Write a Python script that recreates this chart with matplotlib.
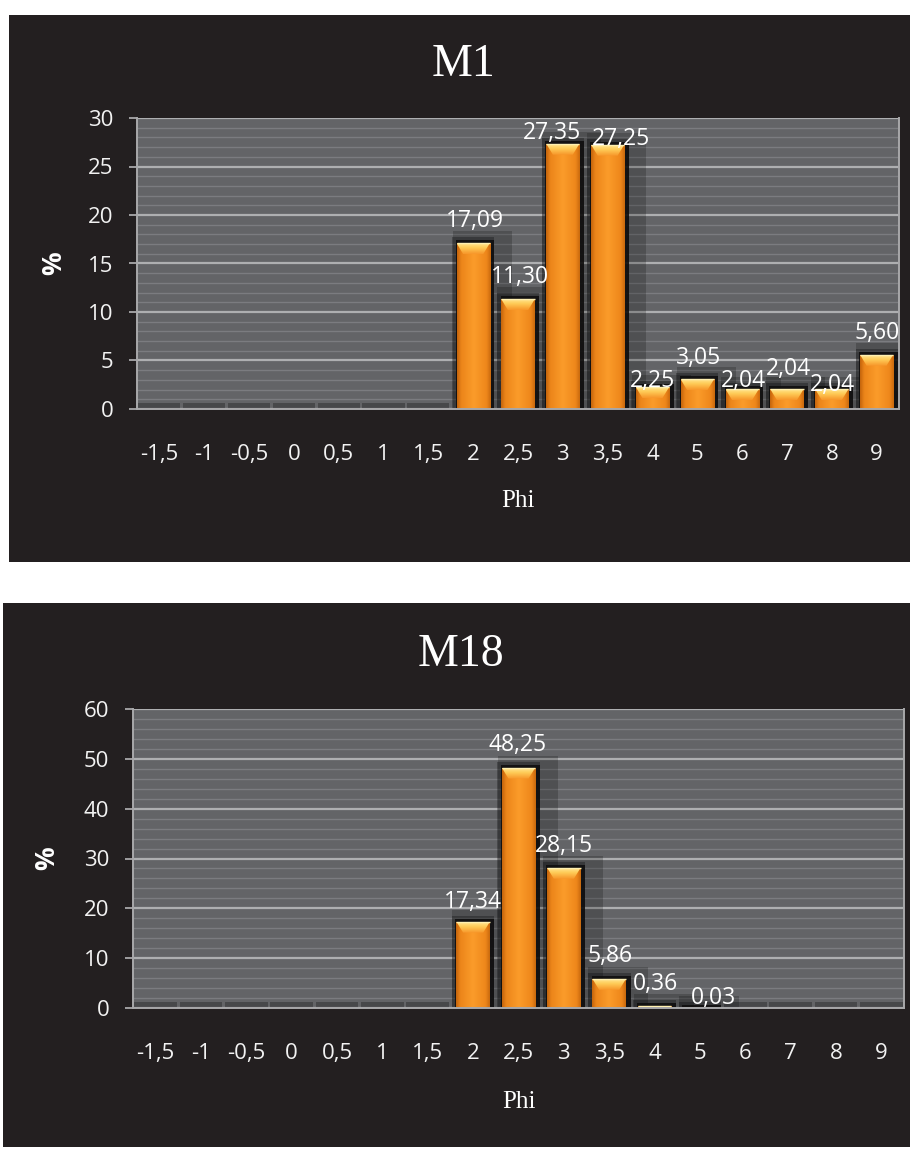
import matplotlib
matplotlib.use("Agg")
import matplotlib.pyplot as plt
import numpy as np
from matplotlib.patches import Rectangle, Polygon
from matplotlib.colors import LinearSegmentedColormap
from matplotlib.ticker import MultipleLocator

# ---- data ----
phi_labels = ["-1,5", "-1", "-0,5", "0", "0,5", "1", "1,5", "2", "2,5",
              "3", "3,5", "4", "5", "6", "7", "8", "9"]
m1_values = [0, 0, 0, 0, 0, 0, 0, 17.09, 11.30, 27.35, 27.25,
             2.25, 3.05, 2.04, 2.04, 2.04, 5.60]
m18_values = [0, 0, 0, 0, 0, 0, 0, 17.34, 48.25, 28.15, 5.86,
              0.36, 0.03, 0, 0, 0, 0]

# label nudges (pixels) so neighbouring value labels don't collide
m1_label_nudge = {7: (2, 16), 8: (2, 16), 9: (-11, 5), 10: (13, 0),
                  11: (0, 0), 12: (1, 15), 13: (1, 2.5), 14: (1, 14),
                  15: (1, -1.5), 16: (1, 16)}
m18_label_nudge = {7: (0, 14), 8: (-1, 17), 9: (0, 16), 10: (1, 17),
                   11: (1, 16), 12: (14, 4)}

W, H = 910, 1151
DPI = 100
PANEL_BG = "#231f20"
PLOT_BG = "#636467"
SANS = ["Open Sans", "DejaVu Sans"]
SERIF = ["Liberation Serif", "DejaVu Serif"]


def fx(px):
    return px / W


def fy(py):
    return 1 - py / H


bar_cmap = LinearSegmentedColormap.from_list(
    "barfill",
    [(0.0, "#c4650c"), (0.12, "#ec851a"), (0.5, "#fb9c2a"),
     (0.88, "#ee871b"), (1.0, "#c96a0e")])
bevel_cmap = LinearSegmentedColormap.from_list(
    "bevel", [(0.0, "#f7962a"), (0.6, "#ffcc58"), (1.0, "#ffe690")])

fig = plt.figure(figsize=(W / DPI, H / DPI), dpi=DPI)
fig.patch.set_facecolor("white")


def panel(box, axbox, values, nudges, ymax, ystep, title, title_base,
          pct_xy, phi_base):
    # dark card behind the chart
    x0, y0, x1, y1 = box
    fig.patches.append(Rectangle((fx(x0), fy(y1)), fx(x1) - fx(x0),
                                 fy(y0) - fy(y1), transform=fig.transFigure,
                                 facecolor=PANEL_BG, edgecolor="none",
                                 zorder=-5))
    l, t, r, b = axbox
    ax = fig.add_axes([fx(l), fy(b), fx(r) - fx(l), fy(t) - fy(b)])
    ax.set_zorder(1)
    ax.set_facecolor(PLOT_BG)
    n = len(values)
    xs = np.arange(n)
    ax.set_xlim(-0.5, n - 0.5)
    ax.set_ylim(0, ymax)

    px_per_unit = (b - t) / ymax

    def up(px):
        return px / px_per_unit

    ax.yaxis.set_major_locator(MultipleLocator(ystep))
    ax.yaxis.set_minor_locator(MultipleLocator(ystep / 5))
    ax.grid(which="minor", axis="y", color="#7b7c80", lw=1.0, zorder=0.5)
    ax.grid(which="major", axis="y", color="#aeafb1", lw=1.6, zorder=0.6)
    ax.set_axisbelow(True)

    # depth / shadow boxes behind each bar
    for xi, v in zip(xs, values):
        ax.add_patch(Rectangle((xi - 0.47, 0), 0.94, v + up(6),
                               facecolor="black", alpha=0.28,
                               edgecolor="none", zorder=1))
        if v > 0:
            ax.add_patch(Rectangle((xi - 0.46, 0), 1.32, v + up(12),
                                   facecolor="black", alpha=0.2,
                                   edgecolor="none", zorder=1.1))
            ax.add_patch(Rectangle((xi - 0.39, 0), 0.86, v + up(3),
                                   facecolor="#0d0c0c", alpha=0.85,
                                   edgecolor="none", zorder=1.2))

    bw = 0.74
    bars = ax.bar(xs, values, width=bw, color="#f7931e", zorder=2,
                  linewidth=0)
    grad = np.linspace(0, 1, 64).reshape(1, -1)
    vgrad = np.linspace(0, 1, 32).reshape(-1, 1)
    for bar, v in zip(bars, values):
        if v <= 0:
            continue
        bx, bwid, bh = bar.get_x(), bar.get_width(), bar.get_height()
        im = ax.imshow(grad, cmap=bar_cmap, aspect="auto",
                       extent=(bx, bx + bwid, 0, bh), zorder=2.1,
                       interpolation="bicubic")
        im.set_clip_path(bar)
        # light bevel at the top of each bar
        hh = min(up(11), bh)
        inset = bwid * 0.2
        bevel = Polygon([(bx, bh), (bx + bwid, bh),
                         (bx + bwid - inset, bh - hh), (bx + inset, bh - hh)],
                        closed=True, facecolor="none", edgecolor="none",
                        zorder=2.2)
        ax.add_patch(bevel)
        bim = ax.imshow(vgrad, cmap=bevel_cmap, aspect="auto",
                        origin="lower", extent=(bx, bx + bwid, bh - hh, bh),
                        zorder=2.2, interpolation="bicubic")
        bim.set_clip_path(bevel)
        ax.plot([bx, bx + bwid], [bh, bh], color="#fff0b0", lw=1.0,
                zorder=2.3, solid_capstyle="butt")
    ax.set_ylim(0, ymax)
    ax.set_xlim(-0.5, n - 0.5)

    # value labels
    for xi, v in zip(xs, values):
        if v <= 0:
            continue
        dx, dy = nudges.get(xi, (0, 16))
        ax.annotate(f"{v:.2f}".replace(".", ","), (xi, v),
                    xytext=(dx, dy), textcoords="offset pixels",
                    ha="center", va="baseline", color="white",
                    fontsize=16.5, family=SANS, zorder=5)

    ax.set_xticks(xs)
    ax.set_xticklabels(phi_labels)
    ax.tick_params(axis="x", length=0, pad=25, labelsize=16,
                   labelcolor="#f2f2f2")
    ax.tick_params(axis="y", which="major", length=6, width=1.3,
                   color="#a8a8aa", pad=11, labelsize=16,
                   labelcolor="#f2f2f2", direction="out")
    ax.tick_params(axis="y", which="minor", length=0)
    for lab in ax.get_xticklabels() + ax.get_yticklabels():
        lab.set_family(SANS)
    for s in ax.spines.values():
        s.set_color("#a8a8aa")
        s.set_linewidth(1.4)
    ax.spines["top"].set_visible(False)

    fig.text(fx(sum([x0, x1]) / 2 + 4), fy(title_base), title,
             ha="center", va="baseline", color="white", fontsize=33,
             family=SERIF)
    fig.text(fx(pct_xy[0]), fy(pct_xy[1]), "%", rotation=90, ha="center",
             va="center", color="white", fontsize=19, fontweight="bold",
             family=SANS)
    fig.text(fx((l + r) / 2), fy(phi_base), "Phi", ha="center",
             va="baseline", color="white", fontsize=18, family=SERIF)
    return ax


panel((9, 15, 910, 562), (137, 118, 899, 409), m1_values, m1_label_nudge,
      30, 5, "M1", 76, (54, 263), 507)
panel((3, 603, 910, 1147), (133, 709, 904, 1008), m18_values,
      m18_label_nudge, 60, 10, "M18", 666, (47, 858), 1108)

fig.savefig("out.png", dpi=DPI, facecolor=fig.get_facecolor())
